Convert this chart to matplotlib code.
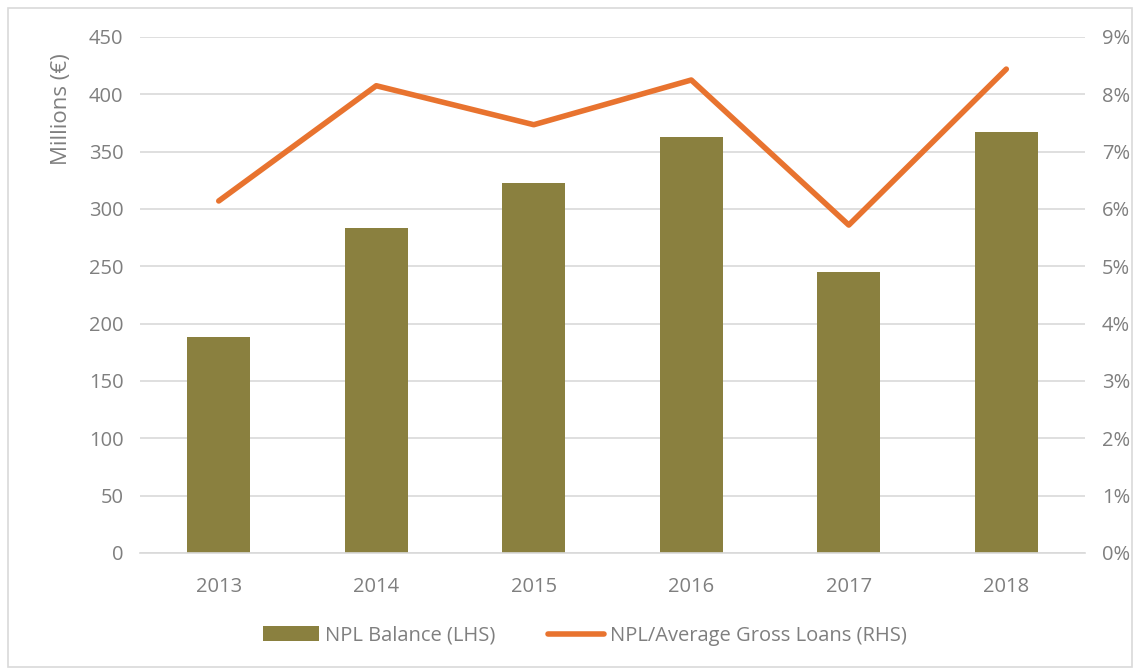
import matplotlib
matplotlib.use('Agg')
import matplotlib.pyplot as plt
from matplotlib.ticker import FuncFormatter
from matplotlib.patches import Rectangle

years = ['2013', '2014', '2015', '2016', '2017', '2018']
npl_balance = [188, 283, 323, 363, 245, 367]          # millions EUR
npl_ratio = [6.14, 8.15, 7.47, 8.25, 5.72, 8.44]       # percent

BAR_COLOR = '#8A803F'
LINE_COLOR = '#E8732F'
TEXT_COLOR = '#7F7F7F'
GRID_COLOR = '#D9D9D9'

plt.rcParams['font.family'] = ['Open Sans', 'DejaVu Sans']

fig = plt.figure(figsize=(11.4, 6.69), dpi=100)
fig.patches.append(Rectangle((0.007, 0.003), 0.986, 0.985, transform=fig.transFigure,
                             fill=False, edgecolor=GRID_COLOR, linewidth=1.2))

ax = fig.add_axes([0.1228, 0.1734, 0.829, 0.7713])
x = range(len(years))
bars = ax.bar(x, npl_balance, width=0.4, color=BAR_COLOR, label='NPL Balance (LHS)', zorder=2)
ax.set_xlim(-0.5, len(years) - 0.5)
ax.set_ylim(0, 450)
ax.set_yticks(range(0, 451, 50))
ax.set_xticks(list(x))
ax.set_xticklabels(years)
ax.grid(axis='y', color=GRID_COLOR, linewidth=1.2, zorder=0)
ax.set_axisbelow(True)
for s in ['top', 'right', 'left']:
    ax.spines[s].set_visible(False)
ax.spines['bottom'].set_color(GRID_COLOR)
ax.spines['bottom'].set_linewidth(1.2)
ax.tick_params(axis='both', length=0, labelsize=14.5, colors=TEXT_COLOR)
ax.tick_params(axis='x', pad=17)
ax.tick_params(axis='y', pad=12)
ax.set_ylabel('Millions (€)', fontsize=16, color=TEXT_COLOR)
ax.yaxis.set_label_coords(-0.072, 0.86)

ax2 = ax.twinx()
line, = ax2.plot(list(x), npl_ratio, color=LINE_COLOR, linewidth=4,
                 solid_capstyle='round', label='NPL/Average Gross Loans (RHS)', zorder=3)
ax2.set_ylim(0, 9)
ax2.set_yticks(range(0, 10))
ax2.yaxis.set_major_formatter(FuncFormatter(lambda v, p: f'{int(v)}%'))
for s in ['top', 'right', 'left', 'bottom']:
    ax2.spines[s].set_visible(False)
ax2.tick_params(axis='y', length=0, labelsize=14.5, colors=TEXT_COLOR, pad=12)

fig.legend([bars, line], ['NPL Balance (LHS)', 'NPL/Average Gross Loans (RHS)'],
           loc='center', bbox_to_anchor=(0.513, 0.05), ncol=2, frameon=False,
           fontsize=14.5, labelcolor=TEXT_COLOR, handlelength=2.8, columnspacing=2.6,
           handletextpad=0.3)

fig.savefig('out.png', dpi=100)
